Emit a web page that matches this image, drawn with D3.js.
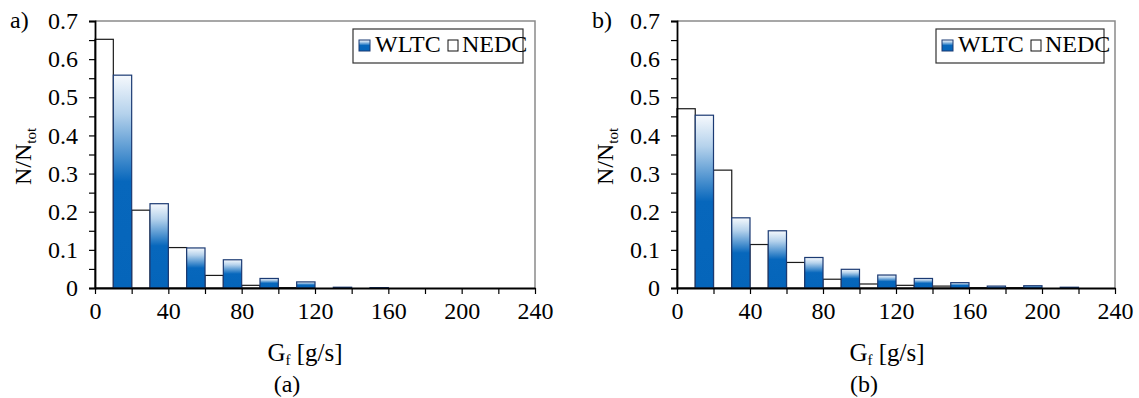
<!DOCTYPE html>
<html>
<head>
<meta charset="utf-8">
<script src="https://cdn.jsdelivr.net/npm/d3@7/dist/d3.min.js"></script>
<style>
  html, body { margin: 0; padding: 0; background: #fff; }
  svg { display: block; }
  text { font-family: "Liberation Serif", "Times New Roman", serif; fill: #000; }
</style>
</head>
<body>
<svg id="chart" width="1139" height="398"></svg>
<script>
// Fuel mass-flow histogram, bins of 20 g/s (start of each bin)
const binStarts = [0, 20, 40, 60, 80, 100, 120, 140, 160, 180, 200, 220];
const binWidth = 20;

// Panel a) relative frequency per bin
const nedcA = [0.652, 0.204, 0.106, 0.033, 0.007, 0.001, 0, 0, 0, 0, 0, 0];
const wltcA = [0.558, 0.221, 0.105, 0.074, 0.025, 0.016, 0.002, 0.001, 0, 0, 0, 0];

// Panel b) relative frequency per bin
const nedcB = [0.470, 0.309, 0.114, 0.067, 0.023, 0.0105, 0.007, 0.005, 0.001, 0.001, 0, 0];
const wltcB = [0.453, 0.184, 0.150, 0.080, 0.049, 0.034, 0.025, 0.014, 0.005, 0.006, 0.002, 0];

// Axis ticks
const xTicks = [0, 20, 40, 60, 80, 100, 120, 140, 160, 180, 200, 220, 240];
const xLabels = [0, 40, 80, 120, 160, 200, 240];
const yTicks = [0, 0.05, 0.1, 0.15, 0.2, 0.25, 0.3, 0.35, 0.4, 0.45, 0.5, 0.55, 0.6, 0.65, 0.7];
const yLabels = [0, 0.1, 0.2, 0.3, 0.4, 0.5, 0.6, 0.7];

const seriesNames = ["WLTC", "NEDC"];
const panelTags = ["a)", "b)"];
const panelCaptions = ["(a)", "(b)"];

const svg = d3.select("#chart");

// Shared vertical gradient for WLTC bars
const defs = svg.append("defs");
const grad = defs.append("linearGradient")
  .attr("id", "wltcFill")
  .attr("x1", 0).attr("y1", 0).attr("x2", 0).attr("y2", 1);
grad.append("stop").attr("offset", "0%").attr("stop-color", "#f6f9fd");
grad.append("stop").attr("offset", "18%").attr("stop-color", "#b5d2ec");
grad.append("stop").attr("offset", "50%").attr("stop-color", "#0767bc");
grad.append("stop").attr("offset", "100%").attr("stop-color", "#0565ba");

const FS = 24;
const SUB = 15;

function drawPanel(opt) {
  const { left, right, top, bottom, nedc, wltc, tag, caption, tagX, legendBox,
          titleX, captionX } = opt;
  const g = svg.append("g");

  const x = d3.scaleLinear().domain([0, 240]).range([left, right]);
  const y = d3.scaleLinear().domain([0, 0.7]).range([bottom, top]);

  // Frame: top and right edges
  g.append("path")
    .attr("d", `M${left},${top}H${right}V${bottom}`)
    .attr("fill", "none").attr("stroke", "#8a8a8a").attr("stroke-width", 1.5);

  // NEDC bars (first half of each bin)
  g.selectAll("rect.nedc")
    .data(binStarts.map((b, i) => ({ b, v: nedc[i] })).filter(d => d.v > 0))
    .join("rect")
    .attr("class", "nedc")
    .attr("x", d => x(d.b))
    .attr("width", d => x(d.b + binWidth / 2) - x(d.b))
    .attr("y", d => y(d.v))
    .attr("height", d => y(0) - y(d.v))
    .attr("fill", "#fff")
    .attr("stroke", "#1a1a1a")
    .attr("stroke-width", 1.2);

  // WLTC bars (second half of each bin)
  g.selectAll("rect.wltc")
    .data(binStarts.map((b, i) => ({ b, v: wltc[i] })).filter(d => d.v > 0))
    .join("rect")
    .attr("class", "wltc")
    .attr("x", d => x(d.b + binWidth / 2))
    .attr("width", d => x(d.b + binWidth) - x(d.b + binWidth / 2))
    .attr("y", d => y(d.v))
    .attr("height", d => y(0) - y(d.v))
    .attr("fill", "url(#wltcFill)")
    .attr("stroke", "#1b3a73")
    .attr("stroke-width", 1.2);

  // Y axis
  const yAxis = d3.axisLeft(y)
    .tickValues(yTicks)
    .tickSize(6)
    .tickPadding(11)
    .tickFormat(d => yLabels.some(l => Math.abs(l - d) < 1e-9) ? d3.format("")(+d.toFixed(1)) : "");
  const ya = g.append("g").attr("transform", `translate(${left},0)`).call(yAxis);
  ya.select(".domain").attr("stroke", "#000").attr("stroke-width", 1.8);
  ya.selectAll(".tick line").attr("stroke", "#000").attr("stroke-width", 1.2);
  ya.selectAll(".tick text").style("font-size", FS + "px").style("font-family", "Liberation Serif");

  // X axis
  const xAxis = d3.axisBottom(x)
    .tickValues(xTicks)
    .tickSize(6)
    .tickSizeOuter(0)
    .tickPadding(8)
    .tickFormat(d => xLabels.includes(d) ? d : "");
  const xa = g.append("g").attr("transform", `translate(0,${bottom})`).call(xAxis);
  xa.select(".domain").attr("stroke", "#000").attr("stroke-width", 1.8);
  xa.selectAll(".tick line").attr("stroke", "#000").attr("stroke-width", 1.2);
  xa.selectAll(".tick text").style("font-size", FS + "px").style("font-family", "Liberation Serif");

  // Panel tag
  g.append("text").attr("x", tagX).attr("y", 28)
    .style("font-size", FS + "px").text(tag);

  // Y title: N/N_tot
  const yt = g.append("text")
    .attr("transform", `translate(${left - 64},${(top + bottom) / 2 + 2}) rotate(-90)`)
    .attr("text-anchor", "middle")
    .style("font-size", FS + "px");
  yt.append("tspan").text("N/N");
  yt.append("tspan").attr("dy", 5).style("font-size", SUB + "px").text("tot");

  // X title: G_f [g/s]
  const xt = g.append("text")
    .attr("x", titleX).attr("y", 361)
    .attr("text-anchor", "middle")
    .style("font-size", "25px");
  xt.append("tspan").text("G");
  xt.append("tspan").attr("dy", 4).style("font-size", SUB + "px").text("f");
  xt.append("tspan").attr("dy", -4).text(" [g/s]");

  // Caption
  g.append("text").attr("x", captionX).attr("y", 392)
    .attr("text-anchor", "middle")
    .style("font-size", "24px").text(caption);

  // Legend
  const lg = g.append("g");
  lg.append("rect")
    .attr("x", legendBox[0]).attr("y", 29)
    .attr("width", legendBox[1] - legendBox[0]).attr("height", 34)
    .attr("fill", "#fff").attr("stroke", "#333").attr("stroke-width", 1.2);
  const lx = legendBox[0];
  lg.append("rect").attr("x", lx + 6).attr("y", 40).attr("width", 11).attr("height", 11)
    .attr("fill", "url(#wltcFill)").attr("stroke", "#1b3a73").attr("stroke-width", 1);
  lg.append("text").attr("x", lx + 22).attr("y", 52)
    .style("font-size", FS + "px").text(seriesNames[0]);
  lg.append("rect").attr("x", lx + 95).attr("y", 40).attr("width", 10).attr("height", 11)
    .attr("fill", "#fff").attr("stroke", "#111").attr("stroke-width", 1);
  lg.append("text").attr("x", lx + 109).attr("y", 52)
    .style("font-size", FS + "px").text(seriesNames[1]);
}

drawPanel({
  left: 95, right: 535, top: 21, bottom: 288,
  nedc: nedcA, wltc: wltcA, tag: panelTags[0], caption: panelCaptions[0],
  tagX: 10, legendBox: [353, 523], titleX: 305, captionX: 287
});

drawPanel({
  left: 677, right: 1115, top: 21, bottom: 288,
  nedc: nedcB, wltc: wltcB, tag: panelTags[1], caption: panelCaptions[1],
  tagX: 592, legendBox: [936, 1104], titleX: 887, captionX: 864
});
</script>
</body>
</html>
